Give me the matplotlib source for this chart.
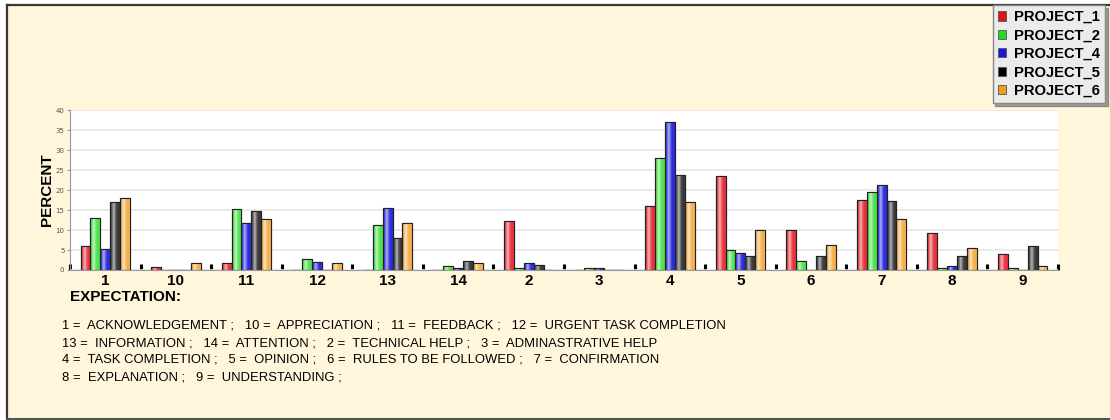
import numpy as np
import matplotlib
matplotlib.use("Agg")
import matplotlib.pyplot as plt
from matplotlib.patches import Rectangle, Patch
from matplotlib.lines import Line2D
from matplotlib.colors import to_rgb

categories = ["1", "10", "11", "12", "13", "14", "2", "3", "4", "5", "6", "7", "8", "9"]
series_names = ["PROJECT_1", "PROJECT_2", "PROJECT_4", "PROJECT_5", "PROJECT_6"]
project_1 = [6.1, 0.7, 1.7, 0.0, 0.0, 0.0, 12.2, 0.0, 15.9, 23.5, 10.0, 17.5, 9.2, 3.9]
project_2 = [12.9, 0.0, 15.2, 2.75, 11.2, 1.1, 0.6, 0.6, 28.1, 5.1, 2.3, 19.6, 0.6, 0.6]
project_4 = [5.2, 0.0, 11.7, 2.1, 15.4, 0.6, 1.7, 0.6, 36.9, 4.2, 0.0, 21.2, 1.1, 0.0]
project_5 = [17.1, 0.0, 14.8, 0.0, 8.1, 2.3, 1.3, 0.0, 23.8, 3.6, 3.6, 17.2, 3.6, 5.9]
project_6 = [18.1, 1.75, 12.75, 1.75, 11.7, 1.75, 0.0, 0.0, 17.1, 10.0, 6.3, 12.8, 5.5, 1.0]
series_values = [project_1, project_2, project_4, project_5, project_6]
colors = ["#e8323c", "#4ee24e", "#2c2ce0", "#3a3a3a", "#f4b04c"]
legend_colors = ["#d81818", "#22dd22", "#1818d8", "#000000", "#f09a20"]
y_ticks = [0, 5, 10, 15, 20, 25, 30, 35, 40]
key_lines = [
    "1 =  ACKNOWLEDGEMENT ;   10 =  APPRECIATION ;   11 =  FEEDBACK ;   12 =  URGENT TASK COMPLETION",
    "13 =  INFORMATION ;   14 =  ATTENTION ;   2 =  TECHNICAL HELP ;   3 =  ADMINASTRATIVE HELP",
    "4 =  TASK COMPLETION ;   5 =  OPINION ;   6 =  RULES TO BE FOLLOWED ;   7 =  CONFIRMATION",
    "8 =  EXPLANATION ;   9 =  UNDERSTANDING ;",
]

BG = "#fff6dc"
W, H = 1110, 420
narrow = ["Liberation Sans Narrow", "Liberation Sans", "DejaVu Sans"]
bold_font = ["Liberation Sans", "DejaVu Sans"]

fig = plt.figure(figsize=(W / 100, H / 100), dpi=100, facecolor="white")

# cream panel with a dark frame on the top, left and bottom edges
fig.patches.append(Rectangle((7 / W, 1 / H), 1 - 7 / W, 1 - 6 / H, transform=fig.transFigure,
                             facecolor=BG, edgecolor="none", zorder=-10))
frame_kw = dict(transform=fig.transFigure, color="#3a3530", linewidth=1.6, zorder=-5)
fig.lines.append(Line2D([7 / W, 1], [1 - 5 / H, 1 - 5 / H], **frame_kw))
fig.lines.append(Line2D([7 / W, 7 / W], [1 - 5 / H, 1 / H], **frame_kw))
fig.lines.append(Line2D([7 / W, 1], [1.5 / H, 1.5 / H], transform=fig.transFigure,
                        color="#555550", linewidth=2.2, zorder=-5))

ax = fig.add_axes([70 / W, 1 - 270 / H, 988 / W, 160 / H])
ax.set_zorder(1)
ax.set_facecolor("white")
x = np.arange(len(categories))
width = 0.14


def shaded(rgb):
    # horizontal shading: darker edges, light highlight left of centre
    t = np.linspace(0, 1, 32)
    light = np.clip(1 - np.abs(t - 0.38) / 0.38, 0, 1) ** 1.5
    c = np.array(rgb)
    dark = c * 0.75
    row = dark[None, :] + (c - dark)[None, :] * np.clip(t * 4, 0, 1)[:, None]
    row = row + (1 - row) * (0.65 * light)[:, None]
    return row[None, :, :]


for i, (vals, col) in enumerate(zip(series_values, colors)):
    offs = x + (i - 2) * width
    bars = ax.bar(offs, vals, width=width, color=col, edgecolor="#222222",
                  linewidth=0.8, zorder=3)
    img = shaded(to_rgb(col))
    for b, v in zip(bars, vals):
        if v <= 0:
            continue
        im = ax.imshow(img, extent=(b.get_x(), b.get_x() + b.get_width(), 0, v),
                       aspect="auto", zorder=3.5, interpolation="bilinear")
        im.set_clip_path(b)
    # outlines on top of the shading
    ax.bar(offs, vals, width=width, fill=False, edgecolor="#222222",
           linewidth=0.8, zorder=4)

ax.set_xlim(-0.5, len(categories) - 0.5)
ax.set_ylim(0, 40)
ax.set_yticks(y_ticks)
ax.set_yticklabels([str(v) for v in y_ticks], fontsize=5, color="#555555")
ax.tick_params(axis="y", length=2, color="#999999", pad=2)
ax.set_xticks(x)
ax.set_xticklabels(categories, fontsize=11, fontweight="bold", family=bold_font)
ax.tick_params(axis="x", length=0, pad=3)
ax.set_xticks(np.arange(-0.5, len(categories)), minor=True)
ax.tick_params(axis="x", which="minor", direction="in", length=4, width=2.2, color="black")
ax.grid(axis="y", color="#e6e6e6", linewidth=1.2, zorder=0)
ax.set_axisbelow(True)
for s in ["top", "right"]:
    ax.spines[s].set_visible(False)
ax.spines["left"].set_color("#9a9a9a")
ax.spines["bottom"].set_color("#9a9a9a")
ax.set_ylabel("PERCENT", fontsize=11, fontweight="bold", family=bold_font, labelpad=1)

fig.text(70 / W, 1 - 297 / H, "EXPECTATION:", fontsize=11, fontweight="bold",
         family=bold_font, va="center", ha="left")
for k, line in enumerate(key_lines):
    fig.text(62 / W, 1 - (326 + 17 * k) / H, line, fontsize=9.4, family=narrow,
             va="center", ha="left")

handles = [Patch(facecolor=c, edgecolor="#555555", linewidth=0.6) for c in legend_colors]
leg = fig.legend(handles, series_names, loc="upper right", bbox_to_anchor=(1105 / W, 1 - 5 / H),
                 prop={"weight": "bold", "size": 10.6, "family": bold_font},
                 frameon=True, fancybox=False, shadow=True, handlelength=0.6, handleheight=0.6,
                 handletextpad=0.5, labelspacing=0.3, borderpad=0.35, borderaxespad=0)
leg.get_frame().set_facecolor("#ebebeb")
leg.get_frame().set_edgecolor("#888888")
leg.get_frame().set_alpha(1)
leg.set_zorder(5)

fig.savefig("out.png", dpi=100, facecolor="white")
